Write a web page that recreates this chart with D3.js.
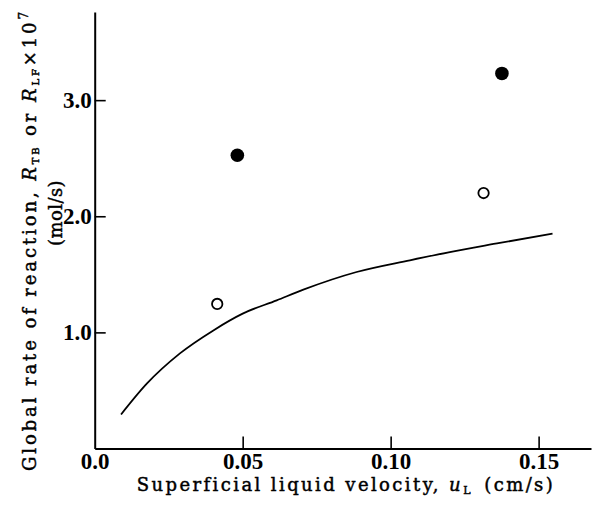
<!DOCTYPE html>
<html><head><meta charset="utf-8">
<script src="https://cdn.jsdelivr.net/npm/d3@7/dist/d3.min.js"></script>
<style>
body{margin:0;background:#fff;}
svg{display:block;}
text{font-family:"DejaVu Serif","Liberation Serif",serif;fill:#000;}
text.tk{font-family:"Liberation Serif","DejaVu Serif",serif;font-weight:bold;}
</style></head><body>
<script>
// Data
const curveX = [0.0089,0.0176,0.0288,0.0401,0.0500,0.0615,0.0705,0.0885,0.1065,0.1200,0.1369,0.1547];
const curveY = [0.293,0.558,0.819,1.017,1.161,1.276,1.368,1.520,1.621,1.692,1.770,1.851];
const filledX = [0.0482,0.1376];
const filledY = [2.525,3.230];
const openX = [0.0414,0.1314];
const openY = [1.245,2.200];
const xTicks = [0,0.05,0.10,0.15];
const xTickLabels = ["0.0","0.05","0.10","0.15"];
const yTicks = [1,2,3];
const yTickLabels = ["1.0","2.0","3.0"];

const W=593,H=507;
const svg=d3.select("body").append("svg").attr("width",W).attr("height",H);
const x=d3.scaleLinear().domain([0,0.1677]).range([94.7,591]);
const y=d3.scaleLinear().domain([0,3.759]).range([448.5,12]);

// x axis
const xa=svg.append("g").attr("transform",`translate(0,${y(0)})`)
 .call(d3.axisBottom(x).tickValues(xTicks).tickFormat((d,i)=>xTickLabels[i]).tickSizeInner(-12).tickSizeOuter(0).tickPadding(4));
xa.select(".domain").attr("stroke-width",2);
xa.selectAll(".tick line").attr("stroke-width",1.6).filter(d=>d===0).remove();
xa.selectAll(".tick text").attr("class","tk").style("font-size","23px").attr("dy","0.72em");

// y axis
const ya=svg.append("g").attr("transform",`translate(${x(0)},0)`)
 .call(d3.axisLeft(y).tickValues(yTicks).tickFormat((d,i)=>yTickLabels[i]).tickSizeInner(-11).tickSizeOuter(0).tickPadding(3));
ya.select(".domain").attr("stroke-width",2);
ya.selectAll(".tick line").attr("stroke-width",1.6);
ya.selectAll(".tick text").attr("class","tk").style("font-size","23px");

// curve
const pts=curveX.map((d,i)=>[d,curveY[i]]);
svg.append("path").datum(pts)
 .attr("d",d3.line().x(d=>x(d[0])).y(d=>y(d[1])).curve(d3.curveMonotoneX))
 .attr("fill","none").attr("stroke","#000").attr("stroke-width",1.8);

// points
svg.selectAll(".f").data(filledX.map((d,i)=>[d,filledY[i]])).join("circle")
 .attr("cx",d=>x(d[0])).attr("cy",d=>y(d[1])).attr("r",6.8).attr("fill","#000");
svg.selectAll(".o").data(openX.map((d,i)=>[d,openY[i]])).join("circle")
 .attr("cx",d=>x(d[0])).attr("cy",d=>y(d[1])).attr("r",5.2).attr("fill","#fff").attr("stroke","#000").attr("stroke-width",1.8);

function fit(t,target){
  const n=t.text().length;
  const w=t.node().getComputedTextLength();
  t.attr("letter-spacing",(target-w)/n);
}
function title(sel){ return sel.attr("font-size",18).attr("stroke","#000").attr("stroke-width",0.45); }

// x label
const xl=title(svg.append("text").attr("x",346).attr("y",491).attr("text-anchor","middle"));
xl.append("tspan").text("Superficial liquid velocity, ");
xl.append("tspan").attr("font-style","italic").text("u");
xl.append("tspan").attr("font-size",11).attr("dy",3).text("L");
xl.append("tspan").attr("dy",-3).text("\u2002(cm/s)");
fit(xl,418);

// y label
const yl=title(svg.append("text").attr("transform","translate(36,240) rotate(-90)").attr("text-anchor","middle"));
yl.append("tspan").text("Global rate of reaction, ");
yl.append("tspan").attr("font-style","italic").text("R");
yl.append("tspan").attr("font-size",10).attr("dy",3).text("TB");
yl.append("tspan").attr("dy",-3).text(" or ");
yl.append("tspan").attr("font-style","italic").text("R");
yl.append("tspan").attr("font-size",10).attr("dy",3).text("LF");
yl.append("tspan").attr("dy",-3).text("\u00d7");
yl.append("tspan").text("10");
yl.append("tspan").attr("font-size",12).attr("dy",-8).text("7");
fit(yl,462);
const y2=title(svg.append("text").attr("transform","translate(62,213) rotate(-90)").attr("text-anchor","middle")).text("(mol/s)");
fit(y2,66);
</script>
</body></html>
